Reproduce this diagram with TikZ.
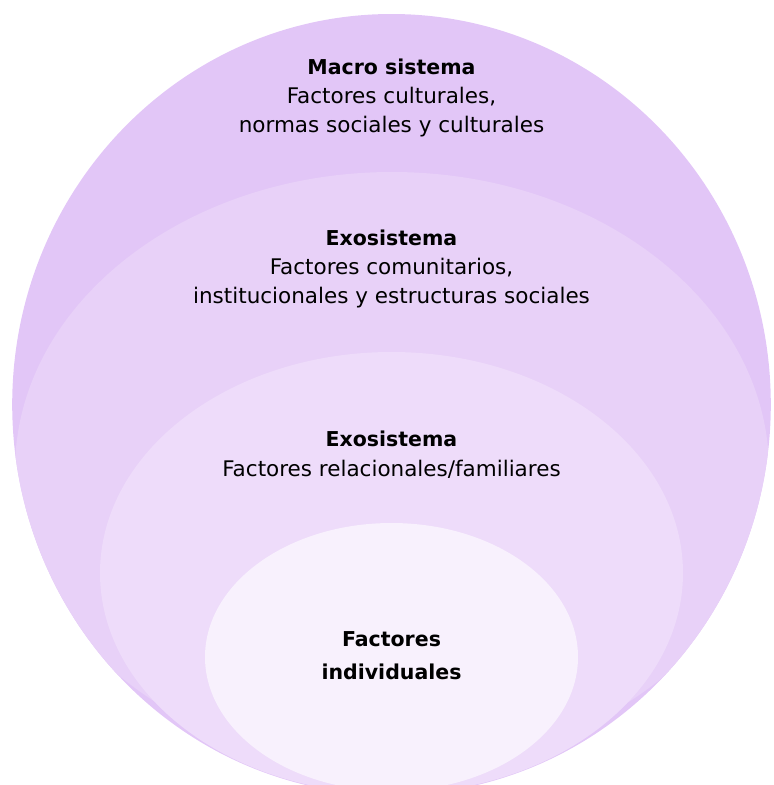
\documentclass[tikz,border=0pt]{standalone}
\usepackage{fontspec}
\setmainfont{DejaVu Sans}
\definecolor{layerA}{HTML}{E2C6F7}
\definecolor{layerB}{HTML}{E8D1F8}
\definecolor{layerC}{HTML}{EEDCFA}
\definecolor{layerD}{HTML}{F8F1FD}
\tikzset{
  lbl/.style={anchor=base, inner sep=0pt, font=\fontsize{21.5}{25}\selectfont, text=black},
  lblb/.style={lbl, font=\fontsize{20.5}{25}\selectfont\bfseries},
}
\begin{document}
\begin{tikzpicture}[x=1pt,y=-1pt]
\useasboundingbox (0,0) rectangle (774,785);
\fill[layerA] (391.5,404.5) ellipse [x radius=379.3, y radius=390.5];
\begin{scope}
  \clip (391.5,404.5) ellipse [x radius=379.3, y radius=390.5];
  \fill[layerB] (392,470) ellipse [x radius=377, y radius=298];
  \fill[layerC] (391.5,573) ellipse [x radius=291.5, y radius=221];
  \fill[layerD] (391.5,657) ellipse [x radius=186.5, y radius=134];
\end{scope}
\node[lblb] (m1) at (391.5,74.3) {Macro sistema};
\node[lbl]  (m2) at (391.5,103.5) {Factores culturales,};
\node[lbl]  (m3) at (391.5,132.7) {normas sociales y culturales};
\node[lblb] (e1) at (391.5,245) {Exosistema};
\node[lbl]  (e2) at (391.5,274.5) {Factores comunitarios,};
\node[lbl]  (e3) at (391.5,303.3) {institucionales y estructuras sociales};
\node[lblb] (r1) at (391.5,446.7) {Exosistema};
\node[lbl]  (r2) at (391.5,476) {Factores relacionales/familiares};
\node[lblb] (i1) at (391.5,646.7) {Factores};
\node[lblb] (i2) at (391.5,679.3) {individuales};
\end{tikzpicture}
\end{document}
